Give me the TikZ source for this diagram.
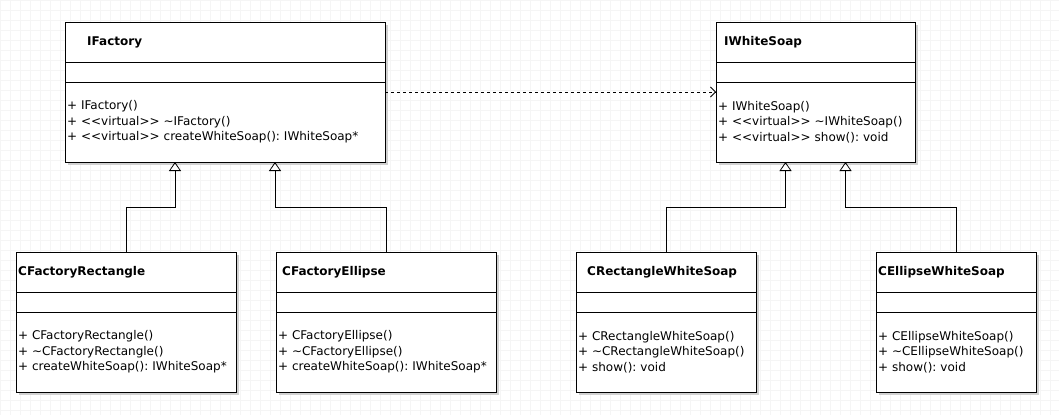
\documentclass[tikz,border=0pt]{standalone}
\usepackage{fontspec}
\setmainfont{DejaVu Sans}
\usetikzlibrary{%
  arrows.meta,%
  positioning,%
  shadows%
}
\tikzset{>=latex}

\begin{document}
\frenchspacing
\begin{tikzpicture}[x=1pt,y=-1pt,
    font=\fontsize{12}{15.5}\selectfont,
    cls/.style={draw, fill=white, line width=0.8pt, outer sep=0pt, inner sep=0pt,
      anchor=north west,
      drop shadow={shadow xshift=3pt, shadow yshift=-3pt, fill=black!18, opacity=1}},
    hd/.style={cls, minimum height=40pt},
    attr/.style={cls, minimum height=20pt},
    ops/.style={cls, minimum height=80pt, inner xsep=2pt, align=left},
    ttl/.style={anchor=west, inner sep=0pt, font=\fontsize{12}{14}\selectfont\bfseries},
    inherit/.style={-{Triangle[open, length=9pt, width=12pt]}, line width=0.8pt},
    depend/.style={-{Straight Barb[length=5pt, width=10pt]},
      dash pattern=on 3pt off 3pt, line width=0.8pt}]
        \useasboundingbox (0,0) rectangle (1059,415);
        \fill[white] (0,0) rectangle (1059,415);
        \draw[black!4, step=10pt, line width=0.5pt] (0,0) grid (1059,415);

        % interfaces
        \node[hd, minimum width=320pt] (ifac) at (65,22) {};
        \node[ttl] (ifac-t) at ([xshift=22pt]ifac.west) {IFactory};
        \node[attr, minimum width=320pt, below=0pt of ifac] (ifac-a) {};
        \node[ops, text width=316pt, below=0pt of ifac-a] (ifac-m)
        {+ IFactory()\\+ <{}<virtual>{}> \textasciitilde IFactory()\\
          + <{}<virtual>{}> createWhiteSoap(): IWhiteSoap*};

        \node[hd, minimum width=199pt] (iws) at (716,22) {};
        \node[ttl] (iws-t) at ([xshift=8pt]iws.west) {IWhiteSoap};
        \node[attr, minimum width=199pt, below=0pt of iws] (iws-a) {};
        \node[ops, text width=195pt, below=0pt of iws-a] (iws-m)
        {+ IWhiteSoap()\\+ <{}<virtual>{}> \textasciitilde IWhiteSoap()\\
          + <{}<virtual>{}> show(): void};

        % factories
        \node[hd, minimum width=220pt] (cfr) at (16,252) {};
        \node[ttl] (cfr-t) at ([xshift=2pt]cfr.west) {CFactoryRectangle};
        \node[attr, minimum width=220pt, below=0pt of cfr] (cfr-a) {};
        \node[ops, text width=216pt, below=0pt of cfr-a] (cfr-m)
        {+ CFactoryRectangle()\\+ \textasciitilde CFactoryRectangle()\\
          + createWhiteSoap(): IWhiteSoap*};

        \node[hd, minimum width=220pt] (cfe) at (276,252) {};
        \node[ttl] (cfe-t) at ([xshift=6pt]cfe.west) {CFactoryEllipse};
        \node[attr, minimum width=220pt, below=0pt of cfe] (cfe-a) {};
        \node[ops, text width=216pt, below=0pt of cfe-a] (cfe-m)
        {+ CFactoryEllipse()\\+ \textasciitilde CFactoryEllipse()\\
          + createWhiteSoap(): IWhiteSoap*};

        % soaps
        \node[hd, minimum width=180pt] (crws) at (576,252) {};
        \node[ttl] (crws-t) at ([xshift=11pt]crws.west) {CRectangleWhiteSoap};
        \node[attr, minimum width=180pt, below=0pt of crws] (crws-a) {};
        \node[ops, text width=176pt, below=0pt of crws-a] (crws-m)
        {+ CRectangleWhiteSoap()\\+ \textasciitilde CRectangleWhiteSoap()\\
          + show(): void};

        \node[hd, minimum width=160pt] (cews) at (876,252) {};
        \node[ttl] (cews-t) at ([xshift=2pt]cews.west) {CEllipseWhiteSoap};
        \node[attr, minimum width=160pt, below=0pt of cews] (cews-a) {};
        \node[ops, text width=156pt, below=0pt of cews-a] (cews-m)
        {+ CEllipseWhiteSoap()\\+ \textasciitilde CEllipseWhiteSoap()\\
          + show(): void};

        % relations
        \draw[depend] ([yshift=-10pt]ifac-m.north east) -- ([yshift=-10pt]iws-m.north west);
        \draw[inherit] (cfr.north) -- ++(0,-45) -| ([xshift=-50pt]ifac-m.south);
        \draw[inherit] (cfe.north) -- ++(0,-45) -| ([xshift=50pt]ifac-m.south);
        \draw[inherit] (crws.north) -- ++(0,-45) -| ([xshift=-30pt]iws-m.south);
        \draw[inherit] (cews.north) -- ++(0,-45) -| ([xshift=30pt]iws-m.south);
      \end{tikzpicture}
\end{document}
